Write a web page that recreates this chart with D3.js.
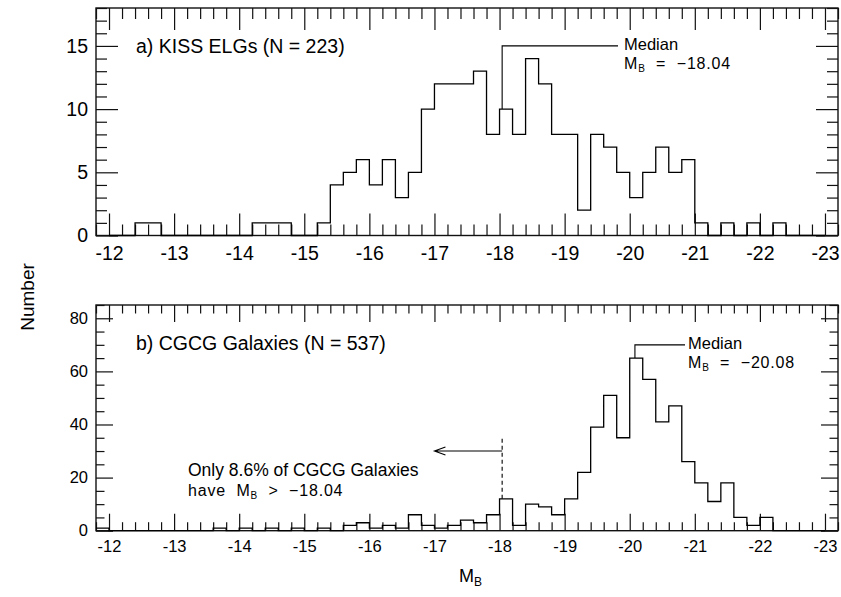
<!DOCTYPE html>
<html><head><meta charset="utf-8">
<script src="https://cdn.jsdelivr.net/npm/d3@7"></script>
<style>
body{margin:0;background:#fff}
text{font-family:"Liberation Sans",Arial,sans-serif;fill:#000}
</style>
</head><body><svg id="c" width="841" height="597"></svg>
<script>
// ---------- data ----------
const xTicks = [-12,-13,-14,-15,-16,-17,-18,-19,-20,-21,-22,-23];
const kissYTicks = [0,5,10,15];
const cgcgYTicks = [0,20,40,60,80];

const kissEdges = [-12.0,-12.2,-12.4,-12.6,-12.8,-13.0,-13.2,-13.4,-13.6,-13.8,-14.0,-14.2,-14.4,-14.6,-14.8,-15.0,-15.2,-15.4,-15.6,-15.8,-16.0,-16.2,-16.4,-16.6,-16.8,-17.0,-17.2,-17.4,-17.6,-17.8,-18.0,-18.2,-18.4,-18.6,-18.8,-19.0,-19.2,-19.4,-19.6,-19.8,-20.0,-20.2,-20.4,-20.6,-20.8,-21.0,-21.2,-21.4,-21.6,-21.8,-22.0,-22.2,-22.4,-22.6,-22.8];
const kissCounts = [0,0,1,1,0,0,0,0,0,0,0,1,1,1,0,0,1,4,5,6,4,6,3,5,10,12,12,12,13,8,10,8,14,12,8,8,2,8,7,5,3,5,7,5,6,1,0,1,0,1,0,1,0,0,0];

const cgcgEdges = [-11.8,-12.0,-12.2,-12.4,-12.6,-12.8,-13.0,-13.2,-13.4,-13.6,-13.8,-14.0,-14.2,-14.4,-14.6,-14.8,-15.0,-15.2,-15.4,-15.6,-15.8,-16.0,-16.2,-16.4,-16.6,-16.8,-17.0,-17.2,-17.4,-17.6,-17.8,-18.0,-18.2,-18.4,-18.6,-18.8,-19.0,-19.2,-19.4,-19.6,-19.8,-20.0,-20.2,-20.4,-20.6,-20.8,-21.0,-21.2,-21.4,-21.6,-21.8,-22.0,-22.2,-22.4,-22.6,-22.8];
const cgcgCounts = [1,0,0,0,0,0,0,0,0,1,0,1,0,1,0,1,0,1,0,2,3,1,2,1,6,2,1,2,4,3,6,12,2,10,9,6,12,22,39,51,35,65,57,41,47,26,18,11,18,5,2,5,0,0,0,0];

const kissMedian = -18.04;
const cgcgMedian = -20.08;
const binWidth = 0.2;

// ---------- layout ----------
const svg = d3.select("#c");
const X0 = 96, X1 = 838;
const x = d3.scaleLinear().domain([-11.8, -23.2]).range([X0, X1]);
const minorX = d3.range(0, 58).map(i => +(-11.8 - i * 0.2).toFixed(1))
  .filter(v => v >= -23.2 && Math.abs(v - Math.round(v)) > 1e-6);

function panel(opt) {
  const y = d3.scaleLinear().domain([0, opt.ymax]).range([opt.bottom, opt.top]);
  const g = svg.append("g");
  const fmt = d => String(d);
  const styleAxis = sel => { sel.select(".domain").remove(); sel.selectAll("line").attr("stroke", "#111").attr("stroke-width", 1.2); };

  g.append("rect").attr("x", X0).attr("y", opt.top).attr("width", X1 - X0).attr("height", opt.bottom - opt.top)
    .attr("fill", "none").attr("stroke", "#111").attr("stroke-width", 1.4);

  g.append("g").attr("transform", `translate(0,${opt.bottom})`)
    .call(d3.axisBottom(x).tickValues(xTicks).tickFormat(fmt).tickSize(-opt.major).tickPadding(opt.xpad))
    .call(styleAxis)
    .selectAll("text").style("font-size", opt.fs + "px").attr("font-family", null);
  g.append("g").attr("transform", `translate(0,${opt.bottom})`)
    .call(d3.axisBottom(x).tickValues(minorX).tickFormat("").tickSize(-opt.minor)).call(styleAxis);
  g.append("g").attr("transform", `translate(0,${opt.top})`)
    .call(d3.axisTop(x).tickValues(xTicks).tickFormat("").tickSize(-opt.major)).call(styleAxis);
  g.append("g").attr("transform", `translate(0,${opt.top})`)
    .call(d3.axisTop(x).tickValues(minorX).tickFormat("").tickSize(-opt.minor)).call(styleAxis);
  g.append("g").attr("transform", `translate(${X0},0)`)
    .call(d3.axisLeft(y).tickValues(opt.yTicks).tickFormat(fmt).tickSize(-opt.major).tickPadding(opt.ypad))
    .call(styleAxis)
    .selectAll("text").style("font-size", opt.fs + "px").attr("font-family", null);
  g.append("g").attr("transform", `translate(${X0},0)`)
    .call(d3.axisLeft(y).tickValues(opt.yMinor).tickFormat("").tickSize(-opt.minor)).call(styleAxis);
  g.append("g").attr("transform", `translate(${X1},0)`)
    .call(d3.axisRight(y).tickValues(opt.yTicks).tickFormat("").tickSize(-opt.major)).call(styleAxis);
  g.append("g").attr("transform", `translate(${X1},0)`)
    .call(d3.axisRight(y).tickValues(opt.yMinor).tickFormat("").tickSize(-opt.minor)).call(styleAxis);

  const pts = opt.edges.map((e, i) => [e, opt.counts[i]]);
  pts.push([opt.edges[opt.edges.length - 1] - binWidth, opt.counts[opt.counts.length - 1]]);
  const line = d3.line().x(d => x(d[0])).y(d => y(d[1])).curve(d3.curveStepAfter);
  g.append("path").attr("d", line(pts)).attr("fill", "none").attr("stroke", "#000").attr("stroke-width", 1.3);

  g.append("text").attr("x", 136).attr("y", opt.labelY).style("font-size", "19.5px").text(opt.label);
  return {g, y};
}

function medianNote(p, med, v0, v1, xEnd, tx, ty, valueText) {
  p.g.append("path")
    .attr("d", `M${x(med)},${p.y(v0)}V${p.y(v1)}H${x(xEnd)}`)
    .attr("fill", "none").attr("stroke", "#000").attr("stroke-width", 1.1);
  p.g.append("text").attr("x", tx).attr("y", ty).style("font-size", "16.5px").text("Median");
  const t = p.g.append("text").attr("x", tx).attr("y", ty + 19).attr("xml:space", "preserve")
    .style("font-size", "16px").style("letter-spacing", "0.8px");
  t.append("tspan").text("M");
  t.append("tspan").attr("dy", 3).style("font-size", "10px").text("B");
  t.append("tspan").attr("dy", -3).text("  =  \u2212" + valueText);
}

// ---------- panel a ----------
const pa = panel({
  top: 8, bottom: 235.5, ymax: 18, yTicks: kissYTicks, yMinor: d3.range(0, 19).filter(v => v % 5),
  edges: kissEdges, counts: kissCounts, major: 22, minor: 11, fs: 19.5, xpad: 11, ypad: 8,
  label: "a) KISS ELGs (N = 223)", labelY: 53
});
medianNote(pa, kissMedian, 10, 15, -19.82, 624, 50, "18.04");

// ---------- panel b ----------
const pb = panel({
  top: 305, bottom: 530.7, ymax: 85, yTicks: cgcgYTicks, yMinor: d3.range(0, 86, 5).filter(v => v % 20),
  edges: cgcgEdges, counts: cgcgCounts, major: 17, minor: 8.5, fs: 16.5, xpad: 10, ypad: 8,
  label: "b) CGCG Galaxies (N = 537)", labelY: 350
});
medianNote(pb, cgcgMedian, 65, 70, -20.85, 688, 349, "20.08");

pb.g.append("line").attr("x1", x(kissMedian)).attr("x2", x(kissMedian))
  .attr("y1", pb.y(12)).attr("y2", pb.y(35))
  .attr("stroke", "#000").attr("stroke-width", 1.1).attr("stroke-dasharray", "4,3");
pb.g.append("path")
  .attr("d", `M${x(kissMedian)},${pb.y(30)}H${x(-17.0)}M${x(-17.0) + 11},${pb.y(30) - 4}L${x(-17.0)},${pb.y(30)}L${x(-17.0) + 11},${pb.y(30) + 4}`)
  .attr("fill", "none").attr("stroke", "#000").attr("stroke-width", 1.1);
pb.g.append("text").attr("x", 188).attr("y", 476).style("font-size", "17.5px").text("Only 8.6% of CGCG Galaxies");
const t2 = pb.g.append("text").attr("x", 188).attr("y", 496).attr("xml:space", "preserve")
  .style("font-size", "16px").style("letter-spacing", "0.8px");
t2.append("tspan").text("have  M");
t2.append("tspan").attr("dy", 3).style("font-size", "10px").text("B");
t2.append("tspan").attr("dy", -3).text("  >  \u221218.04");

svg.append("text").attr("transform", "translate(34,297) rotate(-90)").attr("text-anchor", "middle")
  .style("font-size", "19px").text("Number");
const xt = svg.append("text").attr("x", 459).attr("y", 582).style("font-size", "18px");
xt.append("tspan").text("M");
xt.append("tspan").attr("dy", 4).style("font-size", "12px").text("B");
</script>
</body></html>
